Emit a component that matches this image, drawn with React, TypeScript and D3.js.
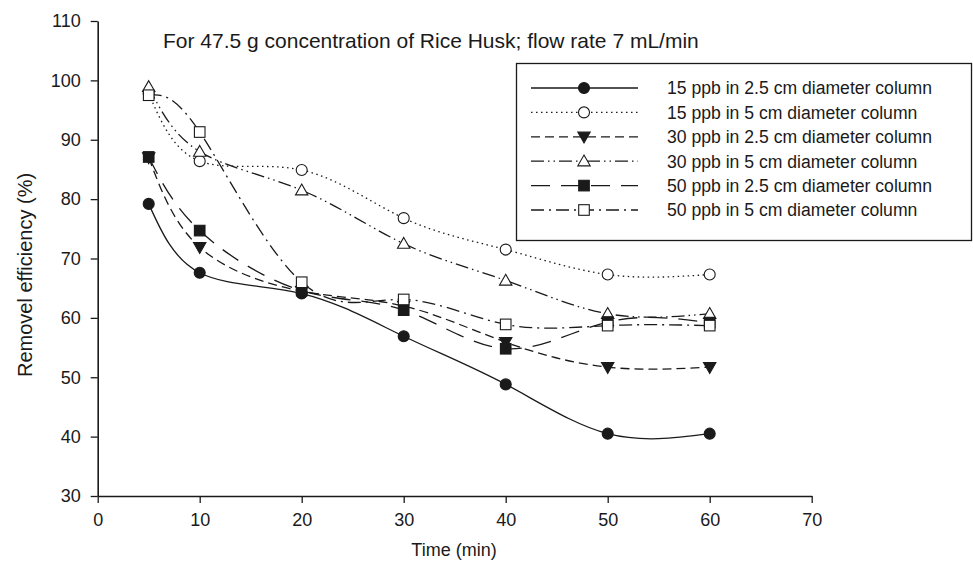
import React, { useEffect, useRef } from 'react';
import * as d3 from 'd3';

// values
const times = [5, 10, 20, 30, 40, 50, 60];
const ppb15Col25 = [79.2, 67.6, 64.1, 56.9, 48.8, 40.5, 40.5];
const ppb15Col5 = [97.8, 86.4, 84.9, 76.8, 71.5, 67.3, 67.3];
const ppb30Col25 = [87.0, 71.9, 64.5, 62.0, 55.9, 51.7, 51.7];
const ppb30Col5 = [98.9, 88.0, 81.5, 72.5, 66.3, 60.7, 60.7];
const ppb50Col25 = [87.1, 74.7, 64.6, 61.3, 54.8, 59.3, 59.2];
const ppb50Col5 = [97.5, 91.3, 66.0, 63.1, 58.9, 58.7, 58.7];

const seriesLabels = [
  '15 ppb in 2.5 cm diameter column',
  '15 ppb in 5 cm diameter column',
  '30 ppb in 2.5 cm diameter column',
  '30 ppb in 5 cm diameter column',
  '50 ppb in 2.5 cm diameter column',
  '50 ppb in 5 cm diameter column',
];
const xTicks = [0, 10, 20, 30, 40, 50, 60, 70];
const yTicks = [30, 40, 50, 60, 70, 80, 90, 100, 110];

const title = 'For 47.5 g concentration of Rice Husk; flow rate 7 mL/min';

const W = 973;
const H = 562;
const ink = '#1a1a1a';
const font = 'Liberation Sans, Arial, sans-serif';

const App = () => {
  const svgRef = useRef<SVGSVGElement>(null);

  useEffect(() => {
    const svg = d3.select(svgRef.current);
    svg.selectAll('*').remove();

    const x = d3.scaleLinear().domain([0, 70]).range([97.7, 811.7]);
    const y = d3.scaleLinear().domain([30, 110]).range([496, 21]);

    const series = [
      { name: seriesLabels[0], values: ppb15Col25, dash: null, marker: 'circle', fill: true },
      { name: seriesLabels[1], values: ppb15Col5, dash: '1.5,3.5', marker: 'circle', fill: false },
      { name: seriesLabels[2], values: ppb30Col25, dash: '9,5', marker: 'tridown', fill: true },
      { name: seriesLabels[3], values: ppb30Col5, dash: '13,4,1.5,4,1.5,4', marker: 'triup', fill: false },
      { name: seriesLabels[4], values: ppb50Col25, dash: '19,11', marker: 'square', fill: true },
      { name: seriesLabels[5], values: ppb50Col5, dash: '13,5,2,5', marker: 'square', fill: false },
    ];

    const drawMarker = (g: any, kind: string, fill: boolean, cx: number, cy: number) => {
      const f = fill ? ink : '#fff';
      if (kind === 'circle') {
        g.append('circle').attr('cx', cx).attr('cy', cy).attr('r', 5.5)
          .attr('fill', f).attr('stroke', ink).attr('stroke-width', 1.1);
      } else if (kind === 'square') {
        g.append('rect').attr('x', cx - 5.3).attr('y', cy - 5.3).attr('width', 10.6).attr('height', 10.6)
          .attr('fill', f).attr('stroke', ink).attr('stroke-width', 1.1);
      } else {
        const s = 6.2;
        const pts = kind === 'triup'
          ? [[cx, cy - s], [cx + s, cy + s * 0.75], [cx - s, cy + s * 0.75]]
          : [[cx, cy + s], [cx + s, cy - s * 0.75], [cx - s, cy - s * 0.75]];
        g.append('path').attr('d', 'M' + pts.map(p => p.join(',')).join('L') + 'Z')
          .attr('fill', f).attr('stroke', ink).attr('stroke-width', 1.1);
      }
    };

    // axes
    const xAxis = svg.append('g').attr('transform', `translate(0,${y(30)})`)
      .call(d3.axisBottom(x).tickValues(xTicks).tickSize(7).tickPadding(10).tickSizeOuter(0));
    const yAxis = svg.append('g').attr('transform', `translate(${x(0)},0)`)
      .call(d3.axisLeft(y).tickValues(yTicks).tickSize(7).tickPadding(10).tickSizeOuter(0));
    [xAxis, yAxis].forEach(a => {
      a.select('.domain').attr('stroke', ink).attr('stroke-width', 1.6);
      a.selectAll('.tick line').attr('stroke', ink).attr('stroke-width', 1.3);
      a.selectAll('.tick text').attr('fill', ink).attr('font-size', 18).attr('font-family', font);
    });

    svg.append('text').attr('x', 454).attr('y', 556).attr('text-anchor', 'middle')
      .attr('font-family', font).attr('font-size', 18).attr('fill', ink).text('Time (min)');
    svg.append('text').attr('transform', `translate(32,275) rotate(-90)`).attr('text-anchor', 'middle')
      .attr('font-family', font).attr('font-size', 20).attr('fill', ink).text('Removel efficiency (%)');

    svg.append('text').attr('x', 163).attr('y', 48).attr('font-family', font).attr('font-size', 21)
      .attr('fill', ink).text(title);

    // lines + markers
    const line = d3.line<number>().x((_, i) => x(times[i])).y(d => y(d)).curve(d3.curveNatural);
    series.forEach(s => {
      svg.append('path').attr('d', line(s.values)).attr('fill', 'none').attr('stroke', ink)
        .attr('stroke-width', 1.3).attr('stroke-dasharray', s.dash);
    });
    series.forEach(s => {
      const g = svg.append('g');
      s.values.forEach((v, i) => drawMarker(g, s.marker, s.fill, x(times[i]), y(v)));
    });

    // legend
    const lg = svg.append('g');
    lg.append('rect').attr('x', 516.5).attr('y', 63.5).attr('width', 455).attr('height', 177)
      .attr('fill', '#fff').attr('stroke', ink).attr('stroke-width', 1.3);
    series.forEach((s, i) => {
      const ry = 88 + i * 24.4;
      lg.append('line').attr('x1', 531).attr('x2', 638).attr('y1', ry).attr('y2', ry)
        .attr('stroke', ink).attr('stroke-width', 1.3).attr('stroke-dasharray', s.dash);
      drawMarker(lg, s.marker, s.fill, 584, ry);
      lg.append('text').attr('x', 667).attr('y', ry + 6.3).attr('font-family', font)
        .attr('font-size', 17.6).attr('fill', ink).text(s.name);
    });
  }, []);

  return (
    <svg ref={svgRef} width={W} height={H}
      style={{ position: 'absolute', left: 0, top: 0, background: '#fff' }} />
  );
};

export default App;
